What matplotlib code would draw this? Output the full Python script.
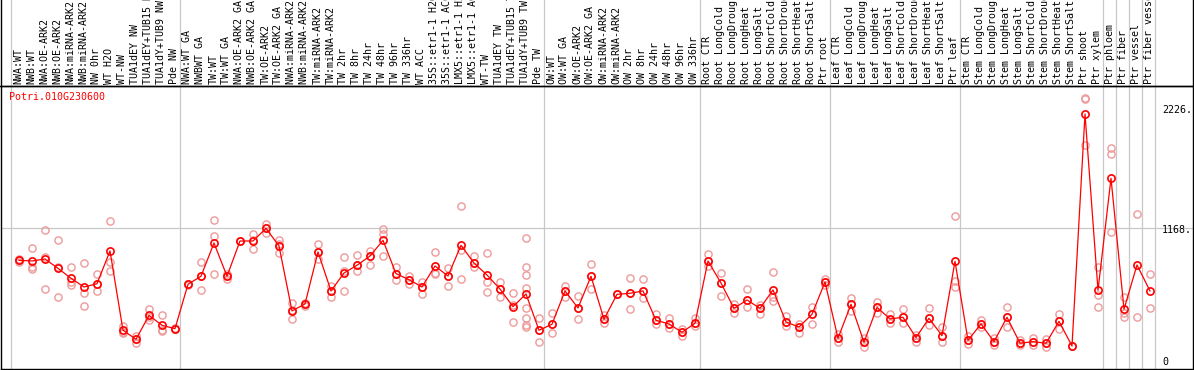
import numpy as np
import matplotlib
matplotlib.use("Agg")
import matplotlib.pyplot as plt
from matplotlib.lines import Line2D
from matplotlib.transforms import blended_transform_factory

gene = "Potri.010G230600"

labels = [
    "NWA:WT", "NWB:WT", "NWA:OE-ARK2", "NWB:OE-ARK2", "NWA:miRNA-ARK2",
    "NWB:miRNA-ARK2", "NW 0hr", "WT H2O", "WT-NW", "TUA1dEY NW",
    "TUA1dEY+TUB15 NW", "TUA1dY+TUB9 NW", "Pde NW",
    "NWA:WT GA", "NWBWT GA", "TW:WT", "TW:WT GA", "NWA:OE-ARK2 GA",
    "NWB:OE-ARK2 GA", "TW:OE-ARK2", "TW:OE-ARK2 GA", "NWA:miRNA-ARK2 GA",
    "NWB:miRNA-ARK2 GA", "TW:miRNA-ARK2", "TW:miRNA-ARK2", "TW 2hr", "TW 8hr",
    "TW 24hr", "TW 48hr", "TW 96hr", "TW 336hr", "WT ACC", "35S::etr1-1 H2O",
    "35S::etr1-1 ACC", "LMX5::etr1-1 H2O", "LMX5::etr1-1 ACC", "WT-TW",
    "TUA1dEY TW", "TUA1dEY+TUB15 TW", "TUA1dY+TUB9 TW", "Pde TW",
    "OW:WT", "OW:WT GA", "OW:OE-ARK2", "OW:OE-ARK2 GA", "OW:miRNA-ARK2",
    "OW:miRNA-ARK2", "OW 2hr", "OW 8hr", "OW 24hr", "OW 48hr", "OW 96hr",
    "OW 336hr",
    "Root CTR", "Root LongCold", "Root LongDrought", "Root LongHeat",
    "Root LongSalt", "Root ShortCold", "Root ShortDrought", "Root ShortHeat",
    "Root ShortSalt", "Ptr root",
    "Leaf CTR", "Leaf LongCold", "Leaf LongDrought", "Leaf LongHeat",
    "Leaf LongSalt", "Leaf ShortCold", "Leaf ShortDrought", "Leaf ShortHeat",
    "Leaf ShortSalt", "Ptr leaf",
    "Stem CTR", "Stem LongCold", "Stem LongDrought", "Stem LongHeat",
    "Stem LongSalt", "Stem ShortCold", "Stem ShortDrought", "Stem ShortHeat",
    "Stem ShortSalt", "Ptr shoot", "Ptr xylem",
    "Ptr phloem", "Ptr fiber", "Ptr vessel", "Ptr fiber vessel",
]

means = [
    882, 876, 894, 811, 723, 646, 675, 965, 263, 183, 395, 307, 277,
    670, 741, 1035, 741, 1053, 1053, 1165, 1009, 434, 496, 956, 611, 770,
    838, 920, 1059, 764, 711, 646, 832, 743, 1015, 858, 752, 628, 472, 584, 263,
    316, 611, 460, 741, 360, 581, 590, 611, 351, 319, 245, 325,
    876, 681, 457, 531, 457, 620, 336, 292, 404, 690,
    192, 493, 157, 466, 363, 378, 198, 369, 215, 873,
    174, 319, 162, 378, 148, 162, 148, 342, 124, 2177, 617,
    1608, 449, 841, 611,
]

replicates = [
    [890, 865, 882], [988, 820, 803], [1148, 909, 628], [1059, 819, 555],
    [820, 693, 664], [856, 596, 478], [764, 611, 675], [1227, 865, 785],
    [304, 250, 236], [212, 183, 153], [451, 380, 354], [398, 265, 260],
    [280, 275],
    [670, 660], [865, 741, 617], [1236, 1095, 758], [760, 745, 718],
    [1053, 1050], [1112, 1060, 985], [1206, 1168, 1121], [1059, 1024, 944],
    [502, 440, 360], [507, 496, 478], [1027, 956, 891], [658, 611, 560],
    [909, 790, 611], [926, 838, 790], [962, 920, 838], [1157, 1112, 918],
    [820, 764, 708], [741, 711, 675], [693, 646, 581], [956, 767, 758],
    [814, 743, 652], [1363, 973, 717], [920, 858, 826], [947, 688, 602],
    [690, 628, 560], [590, 490, 336],
    [1077, 820, 750, 640, 457, 369, 310, 289], [372, 263, 157],
    [413, 316, 236], [658, 611, 560], [564, 460, 360], [850, 741, 631],
    [398, 360, 330], [581, 581], [726, 590, 451], [717, 611, 546],
    [407, 351, 319], [372, 319, 283], [270, 245, 216], [368, 325, 298],
    [938, 876, 832], [767, 681, 569], [496, 457, 416], [626, 531, 472],
    [487, 457, 407], [776, 560, 525], [390, 336, 301], [319, 292, 239],
    [472, 404, 316], [717, 690, 667],
    [227, 192, 161], [549, 493, 434], [192, 157, 118], [516, 466, 413],
    [403, 363, 330], [451, 378, 325], [221, 198, 162], [457, 369, 310],
    [289, 215, 162], [1274, 702, 643],
    [212, 174, 142], [354, 319, 289], [192, 162, 133], [466, 378, 289],
    [177, 148, 133], [192, 162, 133], [189, 148, 118], [407, 342, 272],
    [124, 124], [2316, 2312, 1903], [820, 575, 466],
    [1873, 1823, 1135], [555, 413, 378], [1289, 383], [758, 457],
]

group_starts = [0, 13, 41, 53, 63, 73, 84, 85, 86, 87, 88]
y_ticks = [0, 1168, 2226]
y_tick_labels = ["0", "1168.", "2226."]

W, H = 1194, 370
fig = plt.figure(figsize=(W / 100, H / 100), dpi=100)

def fx(px):
    return px / W

def fy(py):
    return 1 - py / H

# plot area in pixels
left, right, top, bottom = 1, 1193, 86, 369
ax = fig.add_axes([fx(left), fy(bottom), fx(right - left), (bottom - top) / H])

x = np.arange(len(means))
# 13 px per sample, first sample 18 px from the left border
ax.set_xlim(-18 / 13, (right - 19) / 13)
ax.set_ylim(-80, 2425)

for s in ax.spines.values():
    s.set_color("black")
    s.set_linewidth(1.0)
ax.set_xticks([])
ax.set_yticks([])

# group separators, running up through the label header
head = (bottom - 0) / (bottom - top)
for k in group_starts:
    ax.axvline(k - 8 / 13, ymin=0, ymax=head, color="#c8c8c8", lw=0.9,
               clip_on=False, zorder=1)

ax.axhline(1168, color="#c8c8c8", lw=0.9, zorder=1)

font = "DejaVu Sans Mono"
fs = 7.2

for i, reps in enumerate(replicates):
    ax.plot([i] * len(reps), reps, ls="none", marker="o", ms=5.2,
            mfc="none", mec="#ee9a9a", mew=1.0, zorder=2)

ax.plot(x, means, color="red", lw=0.9, marker="o", ms=5.2, mfc="none",
        mec="red", mew=1.2, zorder=3)

# header: border lines and rotated sample names
fig.add_artist(Line2D([0, 1], [fy(top), fy(top)], color="black", lw=1.0,
                      transform=fig.transFigure))
fig.add_artist(Line2D([fx(left), fx(left)], [fy(top), 1], color="black",
                      lw=1.0, transform=fig.transFigure))
fig.add_artist(Line2D([fx(right), fx(right)], [fy(top), 1], color="black",
                      lw=1.0, transform=fig.transFigure))

tr = blended_transform_factory(ax.transData, fig.transFigure)
for i, lab in enumerate(labels):
    ax.text(i - 0.05, fy(84), lab, rotation=90, ha="center", va="bottom",
            fontsize=fs, family=font, transform=tr, clip_on=False)

fig.text(fx(9), fy(97), gene, color="red", fontsize=fs, family=font,
         ha="left", va="center")

tr2 = blended_transform_factory(fig.transFigure, ax.transData)
for v, t in zip(y_ticks, y_tick_labels):
    ax.text(fx(1162), v - 15, t, fontsize=fs, family=font, ha="left",
            va="center", transform=tr2)

fig.savefig("out.png", dpi=100)
